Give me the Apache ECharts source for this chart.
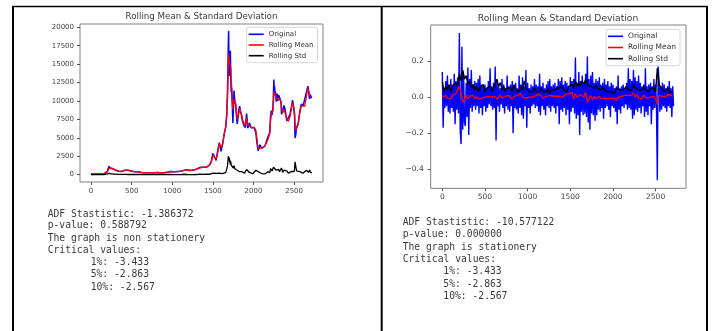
<!DOCTYPE html>
<html><head><meta charset="utf-8">
<script src="https://cdn.jsdelivr.net/npm/echarts@6/dist/echarts.min.js"></script>
<style>html,body{margin:0;padding:0;background:#fff}#c{width:716px;height:331px}</style>
</head><body><div id="c"></div>
<script>
// ---------- Data: left panel (price) ----------
const priceDays = [
  0,20,40,60,80,100,120,140,160,180,
  200,210,218,225,232,240,260,280,300,320,
  340,360,380,400,420,440,460,480,500,520,
  540,560,580,600,620,640,660,680,700,720,
  740,760,780,800,820,840,860,880,900,920,
  940,960,980,1000,1020,1040,1060,1080,1100,1120,
  1140,1150,1160,1180,1200,1220,1240,1260,1280,1300,
  1320,1340,1346,1360,1380,1400,1420,1440,1460,1480,
  1500,1520,1540,1560,1580,1600,1620,1640,1660,1670,
  1680,1686,1690,1694,1698,1702,1706,1710,1715,1720,
  1725,1730,1740,1746,1752,1760,1770,1780,1790,1800,
  1810,1820,1830,1840,1850,1860,1870,1880,1890,1900,
  1915,1930,1950,1970,1990,2010,2030,2045,2058,2080,
  2100,2120,2140,2160,2175,2190,2200,2210,2220,2230,
  2240,2246,2251,2256,2260,2265,2270,2280,2290,2300,
  2310,2320,2330,2340,2345,2360,2375,2390,2410,2430,
  2450,2470,2480,2490,2500,2506,2512,2520,2530,2550,
  2570,2590,2610,2630,2650,2660,2670,2680,2690,2700,
  2710,2719
];
const priceOriginal = [
  135,123,110,102,90,107,120,131,122,187,
  420,800,1050,1150,870,670,860,830,600,630,
  450,490,440,660,600,630,590,520,480,390,
  380,360,380,320,290,230,245,290,245,225,
  240,238,250,270,295,260,235,235,255,400,
  320,445,430,390,380,420,415,425,445,440,
  580,700,680,665,590,575,610,615,715,750,
  770,975,1100,900,1020,1180,970,1190,1340,1800,
  2870,2430,1930,3250,4350,3150,4220,5500,6550,8200,
  11200,15000,17500,19500,15000,13400,15300,14800,16800,13500,
  11200,11800,9200,7000,8700,11400,10000,9500,8000,6900,
  7800,8900,9300,8500,8200,7500,7600,6700,6500,6400,
  8300,6300,7000,6350,6600,6350,5600,4100,3250,4050,
  3580,3620,3870,4030,5050,5300,5700,7900,8700,8100,
  9200,11000,12900,11200,12000,10800,11300,9900,11000,10000,
  10800,10600,10200,9700,8200,8300,9400,8800,7300,7200,
  8200,9350,10100,9600,8600,7900,4970,5400,6400,6900,
  8600,9600,9300,9250,11100,11600,12000,11300,10300,10900,
  10400,10600
];
const priceRollingMean = [
  132,125,112,104,93,100,117,128,124,160,
  330,600,850,960,930,800,820,830,650,620,
  490,480,450,610,610,625,590,525,485,410,
  385,365,375,335,300,250,240,275,252,228,
  238,238,248,265,290,265,238,236,250,350,
  335,420,430,395,385,415,415,423,445,442,
  540,650,680,665,600,578,605,615,700,740,
  765,920,990,950,1000,1150,1020,1150,1300,1700,
  2600,2550,2100,3000,4200,3700,4100,5600,6600,7800,
  10300,13000,15000,16400,16200,15500,15100,14900,15200,14600,
  13000,12200,10300,8800,8600,10200,10200,9700,8600,7500,
  7400,8400,9000,8800,8300,7800,7600,6900,6600,6500,
  7700,6800,6900,6450,6550,6400,6000,4600,3600,3800,
  3600,3600,3850,4000,4700,5200,5600,7300,8200,8300,
  8700,9600,11000,11300,11400,11000,10900,10200,10400,10300,
  10400,10400,10200,9900,9000,8400,8900,8900,7600,7250,
  7900,9100,9800,9800,9000,8400,7000,6000,6200,6800,
  8400,9400,9400,9250,10500,11200,11700,11500,10900,10700,
  10600,10600
];
const priceRollingStd = [
  8,6,5,5,6,7,5,4,5,25,
  90,180,200,160,170,120,70,60,80,50,
  40,30,25,50,30,20,20,25,20,25,
  15,12,15,20,25,30,12,15,12,8,
  6,4,5,8,10,12,6,4,8,40,
  20,25,15,20,10,8,5,6,8,8,
  50,60,35,20,25,10,8,6,25,15,
  15,60,90,80,30,40,60,40,50,120,
  200,150,180,250,200,350,150,250,300,450,
  1200,1900,2500,2750,2300,2200,1700,2000,1400,1800,
  1300,1500,1100,1300,900,1200,800,900,700,600,
  500,700,400,500,300,400,250,400,200,300,
  700,500,300,250,120,100,600,500,400,200,
  150,80,100,90,400,200,250,800,600,500,
  700,1000,1250,1000,1100,800,900,600,700,500,
  700,400,300,500,900,300,600,350,500,200,
  400,450,300,350,400,800,1750,1200,500,300,
  400,350,200,150,600,700,450,300,650,350,
  300,250
];

// ---------- Data: right panel (log returns) ----------
const returnStep = 10;      // sample spacing of returnOriginal (days)
const returnOriginal = [
  0.14,-0.17,0.05,-0.06,0.09,-0.05,0.12,-0.08,0.06,-0.09,
  0.10,-0.06,0.07,-0.08,0.13,-0.15,0.09,-0.07,0.11,-0.09,
  0.355,-0.19,-0.26,0.28,-0.18,0.12,-0.14,-0.16,0.08,-0.11,
  0.165,-0.21,0.10,-0.06,0.15,-0.08,0.07,-0.05,0.09,-0.07,
  0.08,-0.05,0.10,-0.09,0.12,-0.06,0.07,-0.10,0.06,-0.05,
  0.07,-0.08,0.05,-0.06,0.09,-0.04,0.16,-0.05,0.06,-0.07,
  0.08,-0.06,0.17,-0.24,0.09,-0.05,0.06,-0.08,0.05,-0.04,
  0.10,-0.06,0.07,-0.09,0.05,-0.05,0.12,-0.07,0.06,-0.08,
  0.07,-0.05,0.09,-0.20,0.06,-0.06,0.08,-0.07,0.05,-0.09,
  0.12,-0.06,0.07,-0.10,0.11,-0.12,0.06,-0.05,0.15,-0.17,
  0.08,-0.06,0.05,-0.09,0.07,-0.05,0.06,-0.04,0.10,-0.06,
  0.07,-0.05,0.06,-0.08,0.13,-0.10,0.06,-0.05,0.08,-0.07,
  0.05,-0.10,0.07,-0.05,0.09,-0.06,0.10,-0.08,0.06,-0.05,
  0.07,-0.06,0.08,-0.09,0.06,-0.05,0.10,-0.15,0.09,-0.07,
  0.11,-0.08,0.07,-0.06,0.09,-0.10,0.08,-0.07,0.06,-0.15,
  0.11,-0.08,0.09,-0.06,0.10,-0.09,0.22,-0.12,0.08,-0.10,
  0.14,-0.21,0.09,-0.08,0.12,-0.10,0.08,-0.09,0.13,-0.11,
  0.225,-0.14,0.10,-0.18,0.12,-0.09,0.14,-0.10,0.08,-0.13,
  0.10,-0.10,0.09,-0.07,0.11,-0.08,0.07,-0.06,0.08,-0.12,
  0.10,-0.06,0.07,-0.05,0.09,-0.07,0.06,-0.11,0.08,-0.05,
  0.07,-0.06,0.05,-0.08,0.06,-0.15,0.12,-0.07,0.05,-0.09,
  0.06,-0.05,0.07,-0.06,0.05,-0.04,0.08,-0.07,0.16,-0.06,
  0.10,-0.07,0.09,-0.12,0.15,-0.10,0.11,-0.07,0.09,-0.08,
  0.12,-0.06,0.08,-0.09,0.06,-0.05,0.07,-0.11,0.16,-0.08,
  0.06,-0.10,0.07,-0.05,0.08,-0.15,0.06,-0.07,0.10,-0.06,
  0.07,-0.05,-0.46,0.17,0.09,-0.08,0.06,-0.07,0.08,-0.05,
  0.07,-0.06,0.05,-0.08,0.06,-0.05,0.09,-0.06,0.05,-0.11,
  0.06,-0.05
];
const rollStep = 20;        // sample spacing of rolling series (days)
const returnRollingMean = [
  0.00,-0.01,0.01,-0.005,0.005,-0.01,0.01,0.00,0.02,0.01,
  0.06,0.02,-0.03,-0.01,0.01,-0.01,0.005,-0.005,0.01,-0.01,
  0.005,-0.01,0.00,-0.005,-0.01,0.00,-0.01,0.005,-0.005,0.00,
  -0.01,0.005,-0.01,0.00,0.01,-0.005,0.00,0.005,-0.005,0.01,
  0.00,-0.01,0.005,0.00,0.01,0.005,0.02,0.00,0.01,-0.005,
  0.005,0.00,0.01,0.00,0.005,0.01,0.00,0.015,0.005,-0.005,
  0.00,0.005,-0.005,0.01,0.00,0.005,0.01,0.005,0.015,0.005,
  0.01,0.00,0.015,0.005,0.02,0.01,0.025,-0.01,0.02,0.00,
  0.01,0.015,0.025,0.00,0.03,-0.03,-0.01,0.01,-0.015,0.005,
  -0.01,0.00,0.005,-0.01,0.00,-0.005,0.005,-0.01,0.00,-0.005,
  0.00,-0.005,-0.02,0.00,-0.01,0.005,0.00,0.01,0.02,0.01,
  0.02,0.01,0.025,0.00,0.015,-0.005,0.00,-0.01,0.01,0.00,
  -0.005,0.005,0.00,0.01,0.005,-0.01,-0.04,0.01,0.015,0.005,
  0.01,0.00,0.015,0.005,0.01,0.005
];
const returnRollingStd = [
  0.085,0.03,0.06,0.04,0.07,0.03,0.06,0.05,0.08,0.06,
  0.13,0.09,0.15,0.10,0.12,0.07,0.09,0.05,0.07,0.04,
  0.06,0.03,0.05,0.04,0.07,0.03,0.05,0.04,0.06,0.03,
  0.05,0.04,0.10,0.06,0.08,0.04,0.06,0.03,0.05,0.04,
  0.05,0.03,0.07,0.04,0.05,0.03,0.06,0.04,0.09,0.05,
  0.06,0.03,0.04,0.03,0.05,0.03,0.04,0.03,0.05,0.03,
  0.04,0.03,0.05,0.02,0.04,0.03,0.04,0.03,0.05,0.04,
  0.06,0.04,0.05,0.03,0.06,0.05,0.07,0.05,0.09,0.06,
  0.08,0.06,0.09,0.07,0.10,0.07,0.08,0.06,0.07,0.05,
  0.07,0.05,0.06,0.04,0.06,0.04,0.05,0.03,0.04,0.03,
  0.04,0.02,0.05,0.06,0.04,0.03,0.04,0.03,0.06,0.04,
  0.05,0.04,0.07,0.05,0.06,0.04,0.05,0.04,0.06,0.04,
  0.04,0.03,0.05,0.04,0.05,0.03,0.16,0.07,0.06,0.04,
  0.04,0.03,0.05,0.03,0.04,0.03
];

// ---------- Tick labels & texts ----------
const xTickValues = [0,500,1000,1500,2000,2500];
const leftYTickValues = [0,2500,5000,7500,10000,12500,15000,17500,20000];
const rightYTickValues = [-0.4,-0.2,0.0,0.2];
const chartTitle = 'Rolling Mean & Standard Deviation';
const legendNames = ['Original','Rolling Mean','Rolling Std'];
const seriesColors = ['blue','red','black'];
const leftReport = ['ADF Stastistic: -1.386372','p-value: 0.588792','The graph is non stationery','Critical values:'];
const rightReport = ['ADF Stastistic: -10.577122','p-value: 0.000000','The graph is stationery','Critical values:'];
const criticalValues = ['1%: -3.433','5%: -2.863','10%: -2.567'];

// ---------- Build ----------
const pair = (xs, ys) => ys.map((v, i) => [xs[i], v]);
const stepPair = (step, ys) => ys.map((v, i) => [i * step, v]);

function xAxisCfg(gi, fs, margin) {
  return {
    type: 'value', gridIndex: gi, min: -136, max: 2856,
    axisLine: { show: false, onZero: false }, splitLine: { show: false },
    axisTick: { show: true, length: 3, lineStyle: { color: '#555' }, customValues: xTickValues },
    axisLabel: { customValues: xTickValues, fontSize: fs, color: '#444', margin: margin,
      fontFamily: 'DejaVu Sans', formatter: v => String(v) }
  };
}
function yAxisCfg(gi, min, max, ticks, fs, margin, fmt) {
  return {
    type: 'value', gridIndex: gi, min: min, max: max,
    axisLine: { show: false, onZero: false }, splitLine: { show: false },
    axisTick: { show: true, length: 3, lineStyle: { color: '#555' }, customValues: ticks },
    axisLabel: { customValues: ticks, fontSize: fs, color: '#444', margin: margin,
      fontFamily: 'DejaVu Sans', formatter: fmt }
  };
}
function lineSeries(name, idx, data, color, width) {
  return {
    type: 'line', name: name, xAxisIndex: idx, yAxisIndex: idx, data: data,
    showSymbol: false, symbol: 'none', animation: false, sampling: null,
    color: color, itemStyle: { color: color },
    lineStyle: { color: color, width: width }, emphasis: { disabled: true }
  };
}
function legendCfg(left, top, fs, gap) {
  return {
    orient: 'vertical', left: left, top: top, data: legendNames, icon: 'rect',
    itemWidth: 15, itemHeight: 1.6, itemGap: gap, padding: [3, 4, 3, 2],
    borderColor: '#cccccc', borderWidth: 0.8, borderRadius: 2,
    backgroundColor: 'rgba(255,255,255,0.85)', selectedMode: false,
    textStyle: { fontSize: fs, color: '#333', fontFamily: 'DejaVu Sans', lineHeight: 8 }
  };
}
function txt(x, y, s, font, align) {
  return { type: 'text', x: x, y: y, silent: true,
    style: { text: s, font: font, fill: '#3a3a3a', textAlign: align || 'left', align: align || 'left',
      textVerticalAlign: 'middle', verticalAlign: 'middle' } };
}
function ln(x1, y1, x2, y2, w) {
  return { type: 'line', silent: true, shape: { x1: x1, y1: y1, x2: x2, y2: y2 },
    style: { stroke: '#000', lineWidth: w } };
}

const mono = '9.7px "DejaVu Sans Mono", "Liberation Mono", monospace';
const graphics = [
  ln(12, 6.5, 707.5, 6.5, 1.5),
  ln(13, 6, 13, 331, 2),
  ln(381.7, 6, 381.7, 331, 2),
  ln(707, 6, 707, 331, 2),
  txt(201.5, 17, chartTitle, '8.7px "DejaVu Sans"', 'center'),
  txt(558, 18.3, chartTitle, '9.2px "DejaVu Sans"', 'center')
];
const leftLineY = [214, 225.9, 238.1, 250.3, 262.5, 274.8, 287.1];
const rightLineY = [222.3, 234.7, 247.0, 259.4, 271.7, 284.1, 296.5];
leftReport.forEach((s, i) => graphics.push(txt(47.7, leftLineY[i], s, mono)));
criticalValues.forEach((s, i) => graphics.push(txt(90.7, leftLineY[4 + i], s, mono)));
rightReport.forEach((s, i) => graphics.push(txt(402.7, rightLineY[i], s, mono)));
criticalValues.forEach((s, i) => graphics.push(txt(443.3, rightLineY[4 + i], s, mono)));

const fmtRight = v => (v < 0 ? '\u2212' : '') + Math.abs(v).toFixed(1);

const option = {
  animation: false,
  backgroundColor: '#ffffff',
  grid: [
    { left: 80, top: 24, width: 243, height: 158, show: true, borderColor: '#808080', borderWidth: 1, backgroundColor: 'rgba(0,0,0,0)' },
    { left: 430.7, top: 25, width: 255.3, height: 163.3, show: true, borderColor: '#808080', borderWidth: 1, backgroundColor: 'rgba(0,0,0,0)' }
  ],
  xAxis: [xAxisCfg(0, 7, 6), xAxisCfg(1, 7.5, 5)],
  yAxis: [
    yAxisCfg(0, -1000, 20450, leftYTickValues, 7, 6, v => String(v)),
    yAxisCfg(1, -0.505, 0.40, rightYTickValues, 7.5, 7, fmtRight)
  ],
  legend: [legendCfg(246.7, 27.3, 7, 2.7), legendCfg(606, 29.3, 7.5, 3.2)],
  series: [
    lineSeries(legendNames[0], 0, pair(priceDays, priceOriginal), seriesColors[0], 1.5),
    lineSeries(legendNames[1], 0, pair(priceDays, priceRollingMean), seriesColors[1], 1.3),
    lineSeries(legendNames[2], 0, pair(priceDays, priceRollingStd), seriesColors[2], 1.3),
    lineSeries(legendNames[0], 1, stepPair(returnStep, returnOriginal), seriesColors[0], 1.4),
    lineSeries(legendNames[1], 1, stepPair(rollStep, returnRollingMean), seriesColors[1], 1.3),
    lineSeries(legendNames[2], 1, stepPair(rollStep, returnRollingStd), seriesColors[2], 1.4)
  ],
  graphic: { elements: graphics }
};
const chart = echarts.init(document.getElementById('c'), null, { renderer: 'canvas' });
chart.setOption(option);
</script></body></html>
